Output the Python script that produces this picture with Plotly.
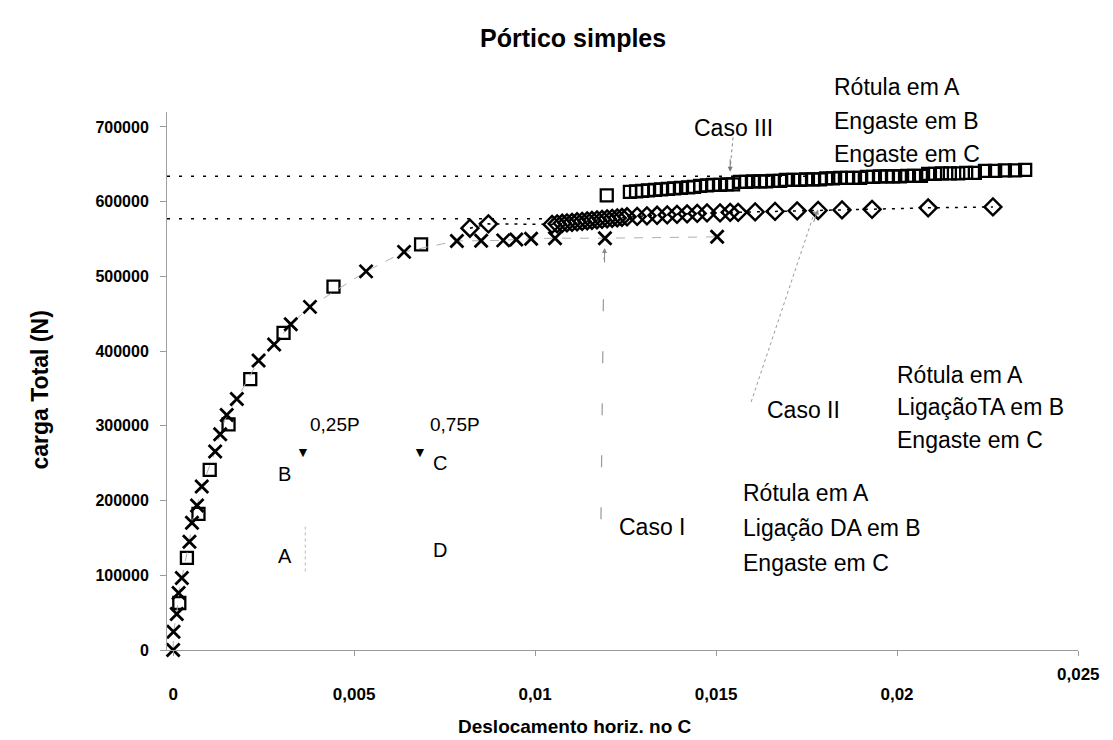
import plotly.graph_objects as go

# Caso I - Rótula em A / Ligação DA em B / Engaste em C
caso1_x = [0.0, 0.00001, 0.0001, 0.00015, 0.00024, 0.00045, 0.00052, 0.00066, 0.00079,
           0.00116, 0.0013, 0.00148, 0.00176, 0.00236, 0.00279, 0.00325, 0.00378,
           0.00533, 0.00638, 0.00784, 0.00851, 0.00912, 0.00948, 0.00989, 0.01055,
           0.01193, 0.01503]
caso1_y = [0, 24500, 48200, 76300, 96400, 145000, 170400, 193400, 218900,
           265500, 288800, 314600, 336000, 387300, 409000, 435800, 459200,
           506700, 532800, 547500, 547800, 548200, 549500, 550500, 551100,
           551100, 552900]

# Caso II - Rótula em A / LigaçãoTA em B / Engaste em C
caso2_x = [0.0082, 0.00871, 0.01047, 0.01061, 0.01075, 0.01088, 0.01102, 0.01116,
           0.0113, 0.01144, 0.01157, 0.01171, 0.01185, 0.01199, 0.01213, 0.01227,
           0.0124, 0.01254, 0.01282, 0.01309, 0.01337, 0.01365, 0.01392, 0.0142,
           0.01448, 0.01475, 0.01511, 0.01539, 0.01561, 0.01608, 0.01663, 0.01724,
           0.01782, 0.01848, 0.01931, 0.02086, 0.02265]
caso2_y = [564500, 570300, 569600, 570300, 571000, 571600, 572300, 573000,
           573600, 574300, 575000, 575600, 576300, 577000, 577600, 578300,
           579000, 579700, 580300, 581000, 581700, 582300, 583000, 583700,
           584300, 585000, 585000, 585700, 585700, 586300, 587000, 587700,
           588300, 589000, 589700, 591700, 593000]

# Caso III - Rótula em A / Engaste em B / Engaste em C
caso3_x = [0.00017, 0.00038, 0.0007, 0.00101, 0.00153, 0.00213, 0.00305, 0.00443,
           0.00685, 0.01198,
           0.01262, 0.01279, 0.01296, 0.01312, 0.01331, 0.01348, 0.01367, 0.01384,
           0.01403, 0.01423, 0.01439, 0.01456, 0.01475, 0.01492, 0.01511, 0.0153,
           0.01547, 0.01566, 0.01583, 0.01602, 0.01622, 0.01638, 0.01657, 0.01677,
           0.01693, 0.01713, 0.01732, 0.01749, 0.01768, 0.01787, 0.01804, 0.01823,
           0.01843, 0.01862, 0.01878, 0.01898, 0.01917, 0.01934, 0.01953, 0.01972,
           0.01989, 0.02008, 0.02028, 0.02047, 0.02066, 0.02086, 0.02105, 0.02124,
           0.02146, 0.02169, 0.02191, 0.02215, 0.02243, 0.02271, 0.02298, 0.02326,
           0.02354]
caso3_y = [62900, 123200, 182100, 241000, 301900, 362400, 424400, 486300,
           542800, 608400,
           613100, 613800, 614500, 615100, 615800, 616500, 617100, 617800,
           618500, 619100, 619800, 621100, 621800, 622500, 622500, 623200,
           623200, 626500, 626500, 627200, 627200, 627200, 627800, 627800,
           629200, 629200, 629200, 629900, 629900, 629900, 631200, 631200,
           631900, 631900, 631900, 631900, 633200, 633200, 633900, 633900,
           633900, 633900, 634500, 634500, 634500, 637200, 637200, 637900,
           637900, 637900, 638600, 638600, 641200, 641200, 641900, 641900,
           642600]

# reference load levels (dotted horizontals)
nivel_caso3 = 634000
nivel_caso2 = 577000

x_ticks = [0, 0.005, 0.01, 0.015, 0.02, 0.025]
x_labels = ["0", "0,005", "0,01", "0,015", "0,02", "0,025"]
y_ticks = [0, 100000, 200000, 300000, 400000, 500000, 600000, 700000]
y_labels = ["0", "100000", "200000", "300000", "400000", "500000", "600000", "700000"]

FONT = "Arial, Liberation Sans, sans-serif"
X0 = -0.00017
TXT = 23

fig = go.Figure()

fig.add_trace(go.Scatter(
    x=caso3_x, y=caso3_y, mode="markers", name="Caso III", cliponaxis=False,
    marker=dict(symbol="square-open", size=12, color="black", line=dict(width=2.3, color="black")),
))
fig.add_trace(go.Scatter(
    x=caso2_x, y=caso2_y, mode="lines+markers", name="Caso II", cliponaxis=False,
    line=dict(color="black", width=1.5, dash="3px,6px"),
    marker=dict(symbol="diamond-open", size=13, color="black", line=dict(width=2.5, color="black")),
))
fig.add_trace(go.Scatter(
    x=caso1_x, y=caso1_y, mode="lines+markers", name="Caso I", cliponaxis=False,
    line=dict(color="#b0b0b0", width=1, dash="dash"),
    marker=dict(symbol="x-thin", size=13, color="black", line=dict(width=2.8, color="black")),
))

shapes = [
    # horizontal dotted load levels
    dict(type="line", xref="x", yref="y", x0=X0, x1=0.0176, y0=nivel_caso3, y1=nivel_caso3,
         line=dict(color="black", width=1.5, dash="3px,9px")),
    dict(type="line", xref="x", yref="y", x0=X0, x1=0.01045, y0=nivel_caso2, y1=nivel_caso2,
         line=dict(color="black", width=1.5, dash="3px,9px")),
    # connectors from case labels
    dict(type="line", xref="x", yref="y", x0=0.01547, x1=0.01539, y0=686000, y1=645000,
         line=dict(color="#888", width=1, dash="dot")),
    dict(type="line", xref="x", yref="y", x0=0.01597, x1=0.01775, y0=332000, y1=590000,
         line=dict(color="#999", width=1, dash="dot")),
    dict(type="line", xref="x", yref="y", x0=0.01182, x1=0.01190, y0=175000, y1=525000,
         line=dict(color="#999", width=1.2, dash="12px,40px")),
    # faint column of the frame sketch
    dict(type="line", xref="x", yref="y", x0=0.00365, x1=0.00365, y0=105000, y1=165000,
         line=dict(color="#bbb", width=1, dash="dot")),
]

def ann(text, x, y, size=TXT, anchor="left", ref="data"):
    xr, yr = ("x", "y") if ref == "data" else ("paper", "paper")
    return dict(text=text, x=x, y=y, xref=xr, yref=yr,
                showarrow=False, xanchor=anchor, yanchor="middle",
                font=dict(family=FONT, size=size, color="black"))

annotations = [
    ann("Caso III", 0.01547, 698800, anchor="center"),
    ann("Rótula em A", 0.73, 1.0465, ref="paper"),
    ann("Engaste em B", 0.73, 0.9833, ref="paper"),
    ann("Engaste em C", 0.73, 0.922, ref="paper"),
    ann("Caso II", 0.01635, 321200),
    ann("Rótula em A", 0.01994, 368100),
    ann("LigaçãoTA em B", 0.01994, 325300),
    ann("Engaste em C", 0.01994, 281100),
    ann("Caso I", 0.01227, 164700),
    ann("Rótula em A", 0.01569, 210200),
    ann("Ligação DA em B", 0.01569, 163300),
    ann("Engaste em C", 0.01569, 116500),
    ann("0,25P", 0.00448, 301200, size=19, anchor="center"),
    ann("0,75P", 0.00779, 301200, size=19, anchor="center"),
    ann("▼", 0.00359, 265100, size=14, anchor="center"),
    ann("▼", 0.00682, 265100, size=14, anchor="center"),
    ann("B", 0.00309, 235600, size=20, anchor="center"),
    ann("C", 0.00738, 250300, size=20, anchor="center"),
    ann("A", 0.00309, 125800, size=20, anchor="center"),
    ann("D", 0.00738, 133900, size=20, anchor="center"),
    # last x tick label sits a little higher than the others
    dict(text="<b>0,025</b>", x=0.025, y=-0.046, xref="x", yref="paper", showarrow=False,
         xanchor="center", yanchor="middle",
         font=dict(family=FONT, size=17, color="black")),
    # arrowheads
    dict(x=0.01539, y=640000, xref="x", yref="y", ax=0, ay=-14, showarrow=True,
         arrowhead=2, arrowsize=1, arrowwidth=1, arrowcolor="#777", text=""),
    dict(x=0.01782, y=589500, xref="x", yref="y", ax=-5, ay=14, showarrow=True,
         arrowhead=2, arrowsize=1, arrowwidth=1, arrowcolor="#888", text=""),
    dict(x=0.01192, y=538000, xref="x", yref="y", ax=0, ay=16, showarrow=True,
         arrowhead=2, arrowsize=1, arrowwidth=1, arrowcolor="#888", text=""),
    # titles
    dict(text="<b>Pórtico simples</b>", x=0.4457, y=1.1375, xref="paper", yref="paper",
         showarrow=False, xanchor="center", yanchor="middle",
         font=dict(family=FONT, size=25, color="black")),
    dict(text="<b>Deslocamento horiz. no C</b>",
         x=0.448, y=-0.143, xref="paper", yref="paper",
         showarrow=False, xanchor="center", yanchor="middle",
         font=dict(family=FONT, size=19, color="black")),
    dict(text="<b>carga Total (N)</b>", x=-0.139, y=0.483, xref="paper", yref="paper",
         showarrow=False, xanchor="center", yanchor="middle", textangle=-90,
         font=dict(family=FONT, size=23, color="black")),
]

fig.update_layout(
    width=1113, height=740,
    margin=dict(l=167, r=35, t=112, b=90),
    paper_bgcolor="white", plot_bgcolor="white",
    showlegend=False,
    shapes=shapes, annotations=annotations,
    xaxis=dict(range=[X0, 0.025], tickvals=x_ticks, ticktext=x_labels[:-1] + [""],
               showgrid=False, zeroline=False, showline=True, linecolor="#9a9a9a", linewidth=1,
               ticks="outside", ticklen=5, tickcolor="#9a9a9a", ticklabelstandoff=24,
               tickfont=dict(family=FONT, size=17, color="black", weight="bold")),
    yaxis=dict(range=[0, 720000], tickvals=y_ticks, ticktext=y_labels,
               showgrid=False, zeroline=False, showline=True, linecolor="#a0a0a0", linewidth=1,
               ticks="outside", ticklen=6, tickcolor="#9a9a9a", ticklabelstandoff=8,
               tickfont=dict(family=FONT, size=16, color="black", weight="bold")),
)

fig.write_html("out.html")
